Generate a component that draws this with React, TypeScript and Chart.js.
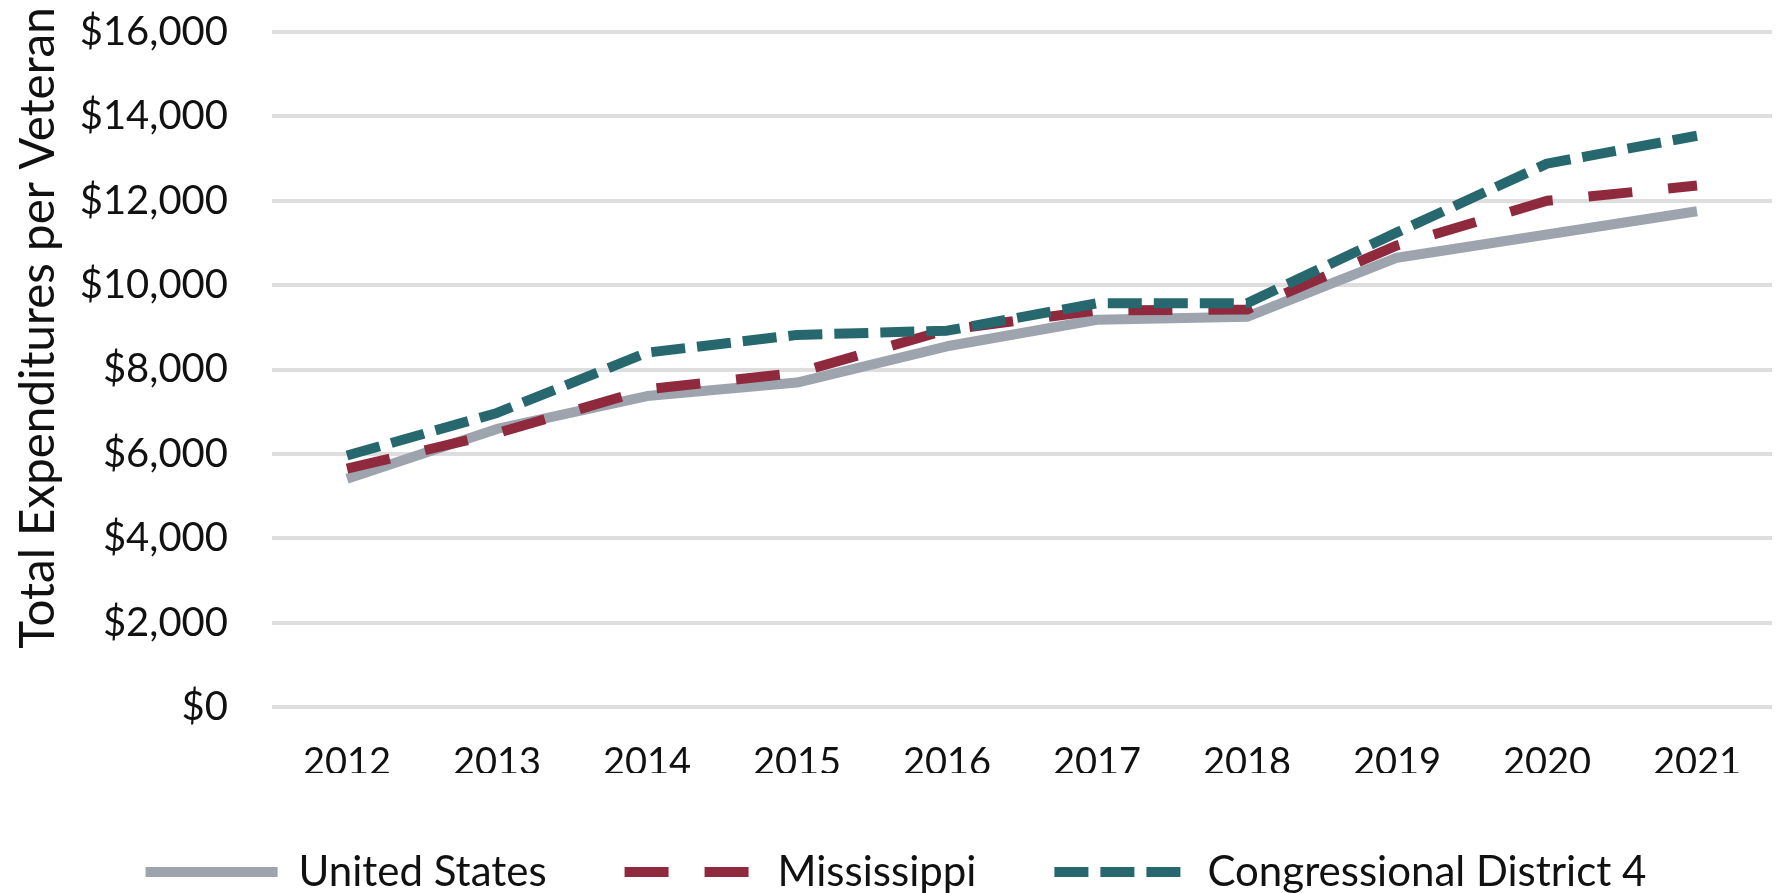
import React, { useEffect, useRef } from "react";
import { Chart, registerables } from "chart.js";

Chart.register(...registerables);

const years = ["2012", "2013", "2014", "2015", "2016", "2017", "2018", "2019", "2020", "2021"];
const unitedStates = [5410, 6590, 7370, 7690, 8550, 9180, 9250, 10650, 11200, 11750];
const mississippi = [5650, 6490, 7530, 7920, 8940, 9400, 9420, 10940, 12000, 12360];
const district4 = [5960, 6970, 8400, 8820, 8920, 9570, 9570, 11250, 12880, 13540];
const seriesNames = ["United States", "Mississippi", "Congressional District 4"];
const yAxisTitle = "Total Expenditures per Veteran";
const yMin = 0;
const yMax = 16000;
const yStep = 2000;

const W = 1776;
const H = 903;
const FONT = "Lato";
const TEXT = "#111111";
const LINE_W = 10;

const axisTitlePlugin = {
  id: "axisTitlePlugin",
  afterDraw(chart: any) {
    const ctx = chart.ctx;
    ctx.save();
    ctx.translate(39, 328);
    ctx.rotate(-Math.PI / 2);
    ctx.font = `47.5px ${FONT}`;
    ctx.fillStyle = TEXT;
    ctx.textAlign = "center";
    ctx.textBaseline = "middle";
    ctx.fillText(yAxisTitle, 0, 0);
    ctx.restore();
  },
};

export default function App() {
  const ref = useRef<HTMLCanvasElement | null>(null);

  useEffect(() => {
    if (!ref.current) return;
    const chart = new Chart(ref.current, {
      type: "line",
      data: {
        labels: years,
        datasets: [
          {
            label: seriesNames[0],
            data: unitedStates,
            borderColor: "#9DA4AE",
            backgroundColor: "#9DA4AE",
            borderWidth: LINE_W,
            pointRadius: 0,
            borderCapStyle: "butt",
            borderJoinStyle: "round",
            order: 3,
          },
          {
            label: seriesNames[1],
            data: mississippi,
            borderColor: "#8F2A3E",
            backgroundColor: "#8F2A3E",
            borderWidth: LINE_W,
            borderDash: [44, 36],
            pointRadius: 0,
            borderCapStyle: "butt",
            borderJoinStyle: "round",
            order: 2,
          },
          {
            label: seriesNames[2],
            data: district4,
            borderColor: "#26686E",
            backgroundColor: "#26686E",
            borderWidth: LINE_W,
            borderDash: [34, 12],
            pointRadius: 0,
            borderCapStyle: "butt",
            borderJoinStyle: "round",
            order: 1,
          },
        ],
      },
      options: {
        responsive: false,
        maintainAspectRatio: false,
        devicePixelRatio: 1,
        animation: false,
        layout: { padding: { top: 32, right: 4, left: 20, bottom: 0 } },
        plugins: {
          tooltip: { enabled: false },
          title: { display: false },
          legend: {
            display: true,
            position: "bottom",
            labels: {
              usePointStyle: true,
              pointStyle: "line",
              pointStyleWidth: 132,
              padding: 78,
              color: TEXT,
              font: { family: FONT, size: 42 },
              sort: (a: any, b: any) => a.datasetIndex - b.datasetIndex,
              generateLabels: (c: any) => {
                const items = Chart.defaults.plugins.legend.labels.generateLabels(c);
                return items.map((it: any) => {
                  const ds = c.data.datasets[it.datasetIndex];
                  return {
                    ...it,
                    lineDash: ds.borderDash || [],
                    lineWidth: LINE_W,
                    strokeStyle: ds.borderColor,
                    fillStyle: ds.borderColor,
                    lineCap: "butt",
                    pointStyle: "line",
                  };
                });
              },
            },
          },
        },
        scales: {
          x: {
            offset: true,
            grid: { display: false, drawTicks: false },
            border: { display: false },
            ticks: {
              color: TEXT,
              font: { family: FONT, size: 38 },
              padding: 33,
              maxRotation: 0,
              autoSkip: false,
            },
            afterFit: (s: any) => {
              s.height = 66;
            },
          },
          y: {
            min: yMin,
            max: yMax,
            grid: {
              color: "#DEDEDE",
              lineWidth: 4,
              drawTicks: true,
              tickLength: 44,
              tickColor: "rgba(0,0,0,0)",
            },
            border: { display: false },
            ticks: {
              stepSize: yStep,
              color: TEXT,
              font: { family: FONT, size: 40 },
              padding: 0,
              callback: (v: any) => "$" + Number(v).toLocaleString("en-US"),
            },
            afterFit: (s: any) => {
              s.width = 252;
            },
          },
        },
      },
      plugins: [axisTitlePlugin],
    });
    return () => chart.destroy();
  }, []);

  return (
    <div style={{ position: "fixed", left: 0, top: 0, width: W, height: 893, overflow: "hidden", background: "#fff" }}>
      <canvas ref={ref} width={W} height={H} style={{ display: "block", width: W, height: H }} />
    </div>
  );
}
